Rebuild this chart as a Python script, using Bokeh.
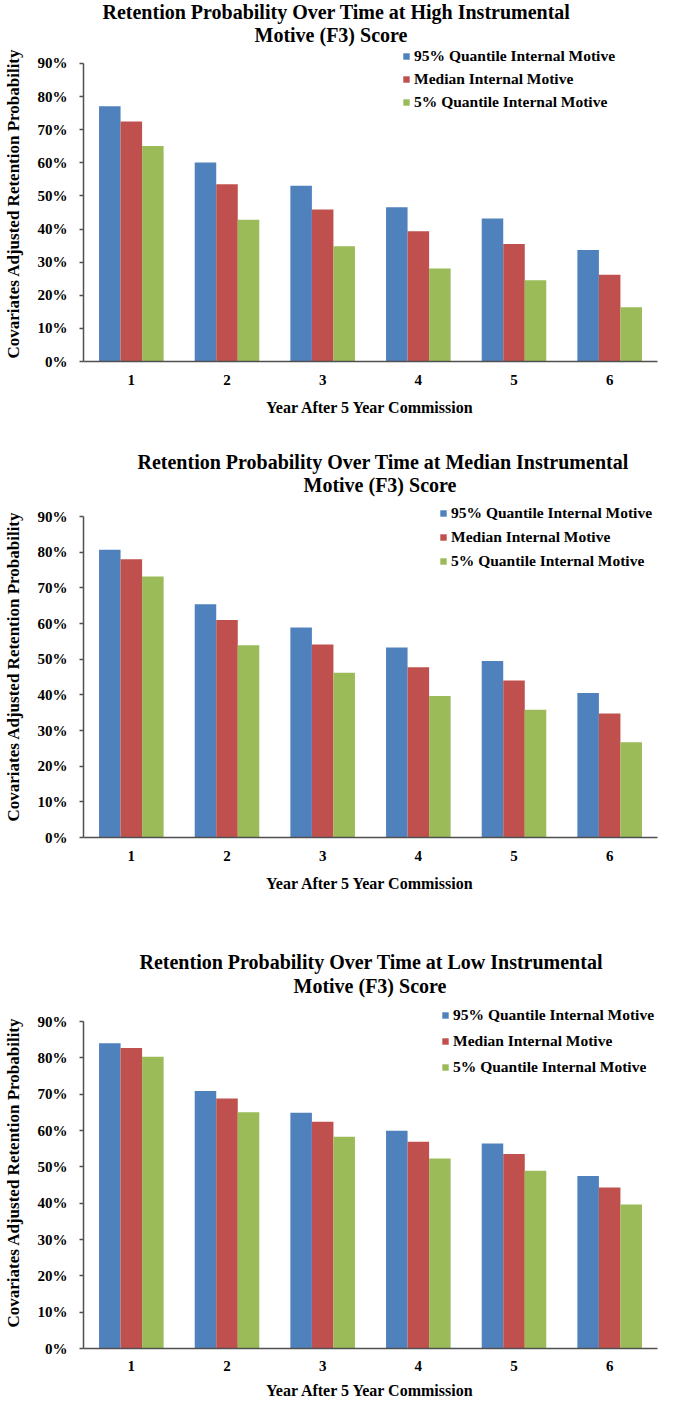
from bokeh.plotting import figure
from bokeh.models import (ColumnDataSource, FactorRange, Range1d, FixedTicker,
                          NumeralTickFormatter, Title, Legend)
from bokeh.transform import dodge
from bokeh.layouts import column
from bokeh.embed import file_html
from bokeh.resources import INLINE

# ---------------- data ----------------
years = ["1", "2", "3", "4", "5", "6"]
series_names = ["95% Quantile Internal Motive", "Median Internal Motive", "5% Quantile Internal Motive"]
y_ticks = [0.0, 0.1, 0.2, 0.3, 0.4, 0.5, 0.6, 0.7, 0.8, 0.9]

high_q95 = [0.771, 0.601, 0.531, 0.466, 0.432, 0.337]
high_med = [0.725, 0.535, 0.459, 0.393, 0.355, 0.262]
high_q05 = [0.651, 0.428, 0.348, 0.281, 0.245, 0.164]

median_q95 = [0.807, 0.654, 0.589, 0.533, 0.495, 0.405]
median_med = [0.780, 0.610, 0.541, 0.477, 0.440, 0.348]
median_q05 = [0.732, 0.539, 0.462, 0.397, 0.358, 0.267]

low_q95 = [0.840, 0.709, 0.649, 0.599, 0.564, 0.475]
low_med = [0.827, 0.688, 0.624, 0.569, 0.535, 0.443]
low_q05 = [0.803, 0.650, 0.583, 0.523, 0.489, 0.396]

titles = [
    ("Retention Probability Over Time at High Instrumental", "Motive (F3) Score"),
    ("Retention Probability Over Time at Median Instrumental", "Motive (F3) Score"),
    ("Retention Probability Over Time at Low Instrumental", "Motive (F3) Score"),
]

# ---------------- style ----------------
FONT = "Liberation Serif"
COLORS = ["#4F81BD", "#C0504D", "#9BBB59"]
AXIS_COLOR = "#505050"
BAR_W = 0.225
Y_AXIS_MAX = 0.9


def make_chart(title, q95, med, q05, height, frame_top, frame_h, h90, border_left,
               border_right, t1_off, t2_off, t1_stand, t2_stand, leg_x, leg_top,
               leg_spacing, xlab_standoff=13, xtitle_standoff=11):
    width = 680
    # the frame reaches a little above the 90% tick so the legend fits
    y_top = Y_AXIS_MAX * frame_h / h90
    src = ColumnDataSource(dict(year=years, q95=q95, med=med, q05=q05))
    p = figure(x_range=FactorRange(*years), y_range=Range1d(0, y_top),
               width=width, height=height, output_backend="svg",
               toolbar_location=None, title=title[0],
               min_border_top=frame_top,
               min_border_bottom=height - frame_top - frame_h,
               min_border_left=border_left, min_border_right=border_right)
    # outer title line
    p.title.align = "left"
    p.title.offset = t1_off
    p.title.text_font = FONT
    p.title.text_font_size = "20px"
    p.title.text_font_style = "bold"
    p.title.text_color = "black"
    p.title.standoff = t1_stand
    # inner title line
    p.add_layout(Title(text=title[1], align="left", offset=t2_off, text_font=FONT,
                       text_font_size="20px", text_font_style="bold",
                       text_color="black", standoff=t2_stand), "above")

    rends = []
    for col, off, c in zip(["q95", "med", "q05"], [-BAR_W, 0, BAR_W], COLORS):
        r = p.vbar(x=dodge("year", off, range=p.x_range), top=col, width=BAR_W,
                   source=src, fill_color=c, line_color=None)
        rends.append(r)

    label_h = 18
    leg_h = 3 * label_h + 2 * leg_spacing
    legend = Legend(items=[(n, [r]) for n, r in zip(series_names, rends)],
                    location=(leg_x, frame_h - leg_top - leg_h), padding=0, margin=0,
                    border_line_alpha=0, background_fill_alpha=0,
                    glyph_width=8, glyph_height=8, label_height=label_h,
                    label_standoff=4, spacing=leg_spacing,
                    label_text_font=FONT, label_text_font_size="15.5px",
                    label_text_font_style="bold", label_text_color="black")
    p.add_layout(legend, "center")

    p.xgrid.grid_line_color = None
    p.ygrid.grid_line_color = None
    p.outline_line_color = None

    xa = p.xaxis[0]
    xa.axis_line_color = AXIS_COLOR
    xa.axis_line_width = 1.5
    xa.major_tick_out = 0
    xa.major_tick_in = 0
    xa.minor_tick_out = 0
    xa.major_label_standoff = xlab_standoff
    xa.major_label_text_font = FONT
    xa.major_label_text_font_size = "15px"
    xa.major_label_text_font_style = "bold"
    xa.major_label_text_color = "black"
    xa.axis_label = "Year After 5 Year Commission"
    xa.axis_label_standoff = xtitle_standoff
    xa.axis_label_text_font = FONT
    xa.axis_label_text_font_size = "16px"
    xa.axis_label_text_font_style = "bold"
    xa.axis_label_text_color = "black"

    ya = p.yaxis[0]
    ya.ticker = FixedTicker(ticks=y_ticks)
    ya.bounds = (0, Y_AXIS_MAX)
    ya.formatter = NumeralTickFormatter(format="0%")
    ya.axis_line_color = AXIS_COLOR
    ya.axis_line_width = 1.5
    ya.major_tick_line_color = AXIS_COLOR
    ya.major_tick_line_width = 1.5
    ya.major_tick_out = 4
    ya.major_tick_in = 0
    ya.minor_tick_out = 0
    ya.minor_tick_in = 0
    ya.major_label_standoff = 12
    ya.major_label_text_font = FONT
    ya.major_label_text_font_size = "15px"
    ya.major_label_text_font_style = "bold"
    ya.major_label_text_color = "black"
    ya.axis_label = "Covariates Adjusted Retention Probability"
    ya.axis_label_standoff = 12
    ya.axis_label_text_font = FONT
    ya.axis_label_text_font_size = "17px"
    ya.axis_label_text_font_style = "bold"
    ya.axis_label_text_color = "black"
    return p


p1 = make_chart(titles[0], high_q95, high_med, high_q05, height=445, frame_top=44,
                frame_h=317, h90=299, border_left=81, border_right=23,
                t1_off=19, t2_off=171, t1_stand=-3, t2_stand=0,
                leg_x=319, leg_top=3, leg_spacing=5)
p2 = make_chart(titles[1], median_q95, median_med, median_q05, height=500, frame_top=50,
                frame_h=342, h90=321, border_left=81, border_right=12,
                t1_off=54, t2_off=220, t1_stand=-3, t2_stand=0,
                leg_x=356, leg_top=9, leg_spacing=6)
p3 = make_chart(titles[2], low_q95, low_med, low_q05, height=457, frame_top=51,
                frame_h=352, h90=327, border_left=79, border_right=3,
                t1_off=56, t2_off=210, t1_stand=0, t2_stand=0,
                leg_x=358, leg_top=10, leg_spacing=8,
                xlab_standoff=12, xtitle_standoff=8)

layout = column(p1, p2, p3, spacing=0)
open("out.html", "w").write(file_html(layout, INLINE))
